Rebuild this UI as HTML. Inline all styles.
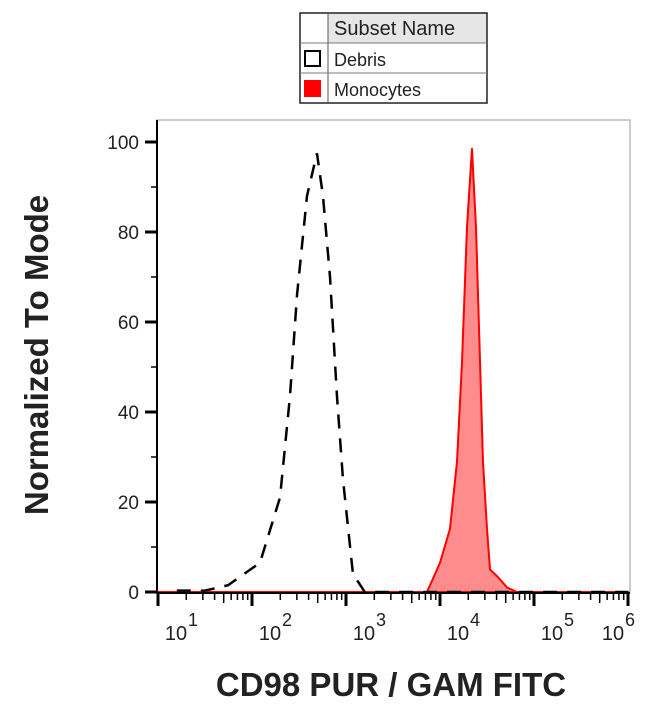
<!DOCTYPE html>
<html><head><meta charset="utf-8"><style>
body{margin:0;background:#fff;width:650px;height:717px;overflow:hidden;font-family:"Liberation Sans",sans-serif}
</style></head><body>
<svg width="650" height="717" viewBox="0 0 650 717">
<g>
<rect x="328" y="13" width="159" height="30" fill="#e6e6e6"/>
<rect x="300" y="13" width="187" height="90" fill="none" stroke="#222" stroke-width="1.5"/>
<line x1="328" y1="13" x2="328" y2="103" stroke="#555"/>
<line x1="300" y1="43" x2="487" y2="43" stroke="#777"/>
<line x1="300" y1="73" x2="487" y2="73" stroke="#777"/>
<text x="334" y="35" font-size="20" fill="#222">Subset Name</text>
<rect x="305" y="51" width="15" height="15" fill="none" stroke="#000" stroke-width="2"/>
<text x="334" y="66" font-size="18" fill="#222">Debris</text>
<rect x="304" y="80" width="17" height="17" fill="#ff0000"/>
<text x="334" y="96" font-size="18" fill="#222">Monocytes</text>
</g>
<rect x="157" y="120" width="473" height="472" fill="none" stroke="#999" stroke-width="1"/>
<g id="marks"></g>
<g id="axes"></g>
<text transform="translate(48,355) rotate(-90)" text-anchor="middle" font-size="33" font-weight="bold" fill="#222">Normalized To Mode</text>
<text x="391" y="696" text-anchor="middle" font-size="33" font-weight="bold" fill="#222">CD98 PUR / GAM FITC</text>
</svg>
<script>
const debrisLog=[1.2,1.5,1.745,2.085,2.298,2.404,2.479,2.585,2.691,2.755,2.83,2.904,2.968,3.074,3.2,4.0,5.0,6.0];
const debrisVal=[0.3,0.3,1.5,6.5,21,43.5,66,88,97.5,88,70,43.5,25,4,0,0,0,0];
const monoLog=[1.0,3.862,4.0,4.106,4.181,4.234,4.287,4.34,4.383,4.426,4.457,4.5,4.532,4.617,4.713,4.819,6.0];
const monoVal=[0,0,6.5,14,29,51,81,98.5,81,51,29,14,5,3.3,1,0,0];
const yTicks=[0,20,40,60,80,100];
const xDecades=[1,2,3,4,5,6];
const NS="http://www.w3.org/2000/svg";
function X(l){return 158+(l-1)*94;}
function Y(v){return 592-v*4.5;}
function mk(t,a,p){const e=document.createElementNS(NS,t);for(const k in a)e.setAttribute(k,a[k]);p.appendChild(e);return e;}
const marks=document.getElementById('marks'),axes=document.getElementById('axes');
let d='M'+X(monoLog[0])+','+Y(0);
monoLog.forEach((l,i)=>d+=' L'+X(l)+','+Y(monoVal[i]));
d+=' L'+X(monoLog[monoLog.length-1])+','+Y(0)+'Z';
const area=mk('path',{d:d,fill:'#ff8c8c',stroke:'#ff0000','stroke-width':2,'stroke-linejoin':'round'},marks);


let d2='';debrisLog.forEach((l,i)=>d2+=(i?' L':'M')+X(l)+','+Y(debrisVal[i]));
const deb=mk('path',{d:d2,fill:'none',stroke:'#000','stroke-width':2.5,'stroke-dasharray':'14,10'},marks);


mk('line',{x1:157,y1:120,x2:157,y2:593,stroke:'#000','stroke-width':2},axes);
mk('line',{x1:157,y1:593,x2:630,y2:593,stroke:'#000','stroke-width':2},axes);
for(let v=0;v<=100;v+=10){const maj=v%20===0;mk('line',{x1:maj?145:151,y1:Y(v),x2:157,y2:Y(v),stroke:'#000','stroke-width':maj?3:1.5},axes);}
yTicks.forEach(v=>{const t=mk('text',{x:139,y:Y(v)+7,'text-anchor':'end','font-size':19,fill:'#222'},axes);t.textContent=v;

});
for(let dd=1;dd<=6;dd++){mk('line',{x1:X(dd),y1:593,x2:X(dd),y2:606,stroke:'#000','stroke-width':3},axes);
 if(dd<6)for(let m=2;m<=9;m++){const xx=X(dd+Math.log10(m));mk('line',{x1:xx,y1:593,x2:xx,y2:m===5?603:600,stroke:'#000','stroke-width':1.5},axes);}}
xDecades.forEach(dd=>{const cx=dd===6?617:X(dd)+22;const t=mk('text',{x:cx-4,y:640,'text-anchor':'middle','font-size':20,fill:'#222'},axes);t.textContent='10';


const s=mk('text',{x:cx+8,y:626,'font-size':18,fill:'#222'},axes);s.textContent=dd;});
</script>
</body></html>
